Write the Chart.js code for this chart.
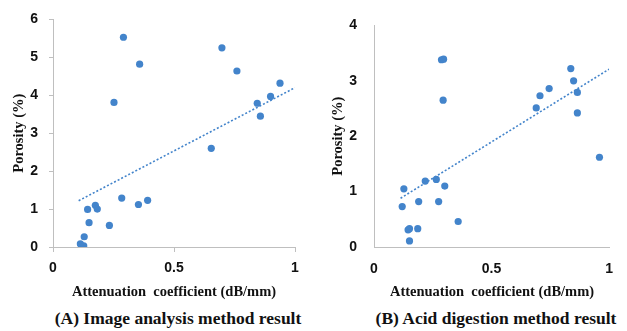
<!DOCTYPE html>
<html>
<head>
<meta charset="utf-8">
<script src="https://cdn.jsdelivr.net/npm/chart.js@4.4.0/dist/chart.umd.min.js"></script>
<style>
  body { margin: 0; background: #fff; width: 627px; height: 331px; position: relative; overflow: hidden; }
  canvas { position: absolute; top: 0; }
  .lbl { position: absolute; font-family: "Liberation Serif", serif; font-weight: bold; color: #111; white-space: nowrap; transform: translate(-50%, -50%); }
  .xt { font-size: 14.5px; top: 291px; }
  .cap { font-size: 17.5px; top: 318px; }
</style>
</head>
<body>
<canvas id="chartA" width="313" height="285" style="left:0"></canvas>
<canvas id="chartB" width="314" height="285" style="left:313px"></canvas>
<div class="lbl xt" style="left:174px">Attenuation&nbsp; coefficient (dB/mm)</div>
<div class="lbl xt" style="left:492px">Attenuation&nbsp; coefficient (dB/mm)</div>
<div class="lbl cap" style="left:178px">(A) Image analysis method result</div>
<div class="lbl cap" style="left:496px">(B) Acid digestion method result</div>
<script>
// (A) image analysis
const attenA = [0.113, 0.127, 0.129, 0.143, 0.149, 0.175, 0.183, 0.233, 0.252, 0.284, 0.291,
  0.353, 0.358, 0.391, 0.654, 0.698, 0.760, 0.844, 0.857, 0.899, 0.938];
const porosA = [0.08, 0.03, 0.27, 0.99, 0.64, 1.10, 1.00, 0.57, 3.81, 1.29, 5.53,
  1.12, 4.82, 1.23, 2.60, 5.25, 4.64, 3.79, 3.45, 3.97, 4.32];
const trendAx = [0.106, 1.0];
const trendAy = [1.22, 4.20];

// (B) acid digestion
const attenB = [0.120, 0.127, 0.145, 0.151, 0.151, 0.186, 0.190, 0.218, 0.265, 0.275, 0.287,
  0.296, 0.294, 0.301, 0.358, 0.690, 0.706, 0.745, 0.837, 0.849, 0.865, 0.865, 0.959];
const porosB = [0.73, 1.05, 0.31, 0.33, 0.11, 0.33, 0.82, 1.19, 1.22, 0.82, 3.38,
  3.39, 2.65, 1.10, 0.46, 2.51, 2.73, 2.86, 3.22, 3.00, 2.79, 2.42, 1.62];
const trendBx = [0.113, 1.0];
const trendBy = [0.88, 3.21];

const yMaxA = 6, yMaxB = 4;
const xTicks = [0, 0.5, 1];

const dotColor = '#4384cb';
const axisColor = '#bfbfbf';
const tickFont = { family: 'Liberation Sans', size: 14, weight: 'bold' };

function pts(xs, ys) {
  return xs.map((x, i) => ({ x: x, y: ys[i] }));
}

function makeChart(id, xs, ys, tx, ty, yMax, cfg) {
  const ctx = document.getElementById(id).getContext('2d');
  return new Chart(ctx, {
    type: 'scatter',
    data: {
      datasets: [{
        data: pts(xs, ys),
        backgroundColor: dotColor,
        borderWidth: 0,
        pointRadius: 3.6,
      }, {
        type: 'line',
        data: pts(tx, ty),
        borderColor: dotColor,
        borderWidth: 1.6,
        borderDash: [2, 2],
        pointRadius: 0,
        fill: false,
      }],
    },
    options: {
      responsive: false,
      animation: false,
      layout: { padding: { left: 0, top: 14, right: cfg.right, bottom: 0 } },
      plugins: { legend: { display: false }, tooltip: { enabled: false } },
      scales: {
        x: {
          type: 'linear',
          min: 0, max: 1,
          afterBuildTicks: s => { s.ticks = xTicks.map(v => ({ value: v })); },
          afterFit: s => { s.height = 285 - 247; },
          grid: { drawOnChartArea: false, drawTicks: cfg.ticks, tickLength: 5, color: axisColor },
          border: { color: axisColor, width: 1 },
          ticks: {
            font: tickFont, color: '#111', padding: cfg.ticks ? 8 : 14, maxRotation: 0,
            callback: v => String(v),
          },
        },
        y: {
          min: 0, max: yMax,
          ticks: { stepSize: 1, font: tickFont, color: '#111', padding: cfg.ypad },
          afterFit: s => { s.width = cfg.yw; },
          grid: { drawOnChartArea: false, drawTicks: cfg.ticks, tickLength: 4, color: axisColor },
          border: { color: axisColor, width: 1 },
          title: {
            display: true,
            text: 'Porosity (%)',
            font: { family: 'Liberation Serif', size: 14.5, weight: 'bold' },
            color: '#111',
            padding: { top: cfg.tpad, bottom: 0 },
          },
        },
      },
    },
  });
}

makeChart('chartA', attenA, porosA, trendAx, trendAy, yMaxA, { right: 18, yw: 53, ticks: true, ypad: 11, tpad: 10.3 });
makeChart('chartB', attenB, porosB, trendBx, trendBy, yMaxB, { right: 16, yw: 61, ticks: false, ypad: 17, tpad: 16.3 });
</script>
</body>
</html>
